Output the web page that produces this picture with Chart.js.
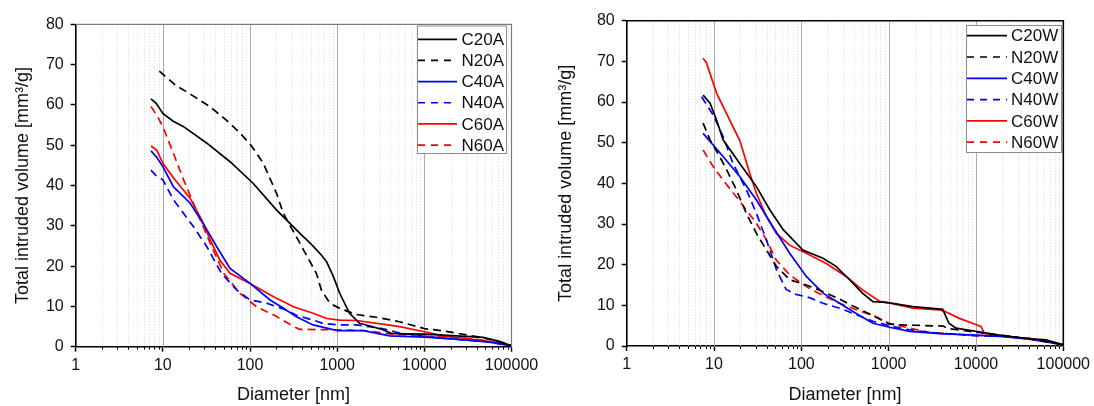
<!DOCTYPE html>
<html lang="en">
<head>
  <meta charset="UTF-8">
  <title>Total intruded volume vs diameter</title>
  <style>
    body { margin: 0; background: #fff; }
    .wrap { position: relative; width: 1094px; height: 406px; }
    canvas { position: absolute; top: 0; }
    #left { left: 0; }
    #right { left: 547px; }
  </style>
  <script src="https://cdn.jsdelivr.net/npm/chart.js"></script>
</head>
<body>
  <div class="wrap">
    <canvas id="left" width="547" height="406"></canvas>
    <canvas id="right" width="547" height="406"></canvas>
  </div>

  <script>
    // axis ticks
    const xMajor = [1, 10, 100, 1000, 10000, 100000];
    const yTicks = [0, 10, 20, 30, 40, 50, 60, 70, 80];

    // left panel: diameter [nm] / volume [mm3/g]
    const labelsA = ['C20A', 'N20A', 'C40A', 'N40A', 'C60A', 'N60A'];
    const c20aD = [7.3, 8.3, 10, 13, 17.3, 32, 59, 109, 202, 374, 500, 661, 755, 900, 1072, 1386, 1806, 2500, 3350, 4170, 6000, 10000, 23400, 47200, 67000, 100000];
    const c20aV = [61.5, 60.5, 57.9, 56, 54.6, 50.5, 45.9, 40.5, 33.9, 28.1, 25.5, 22.7, 21.1, 17.5, 13.2, 8.3, 5.8, 5.0, 4.2, 3.3, 3.2, 3.1, 2.7, 2.3, 1.5, 0.2];
    const n20aD = [9.1, 14, 22, 35, 53, 77, 105, 142, 202, 241, 373, 577, 660, 824, 1070, 1660, 2800, 5200, 10000, 17800, 40000, 67000, 100000];
    const n20aV = [68.4, 64.9, 62.3, 59.5, 56.3, 53, 49.7, 45.5, 38, 33.1, 25.7, 18.2, 14, 10.8, 9.5, 8.0, 7.3, 6.2, 4.5, 3.8, 2.5, 1.5, 0.4];
    const c40aD = [7.3, 8.5, 10, 13.2, 20.6, 30.5, 41.5, 59, 100, 170, 240, 340, 530, 1000, 2000, 4000, 10000, 23000, 56000, 100000];
    const c40aV = [48.6, 47, 44.7, 39.7, 35.6, 29.8, 24.8, 19.4, 15.7, 11.6, 9.6, 7.4, 5.4, 4.0, 4.0, 2.7, 2.4, 1.9, 1.1, 0.2];
    const n40aD = [7.3, 8.3, 10, 13.2, 22.4, 32, 47, 70, 100, 155, 263, 340, 530, 684, 1070, 1660, 3300, 5200, 10000, 23000, 50000, 100000];
    const n40aV = [43.8, 42.5, 41.4, 36.5, 29.8, 24.8, 18.2, 14.1, 11.6, 10.8, 9.1, 7.8, 6.6, 5.8, 5.4, 5.4, 4.5, 3.4, 2.6, 1.8, 1.3, 0.2];
    const c60aD = [7.3, 8.5, 10, 13.2, 20.6, 28, 35, 45, 59, 100, 186, 316, 530, 760, 1070, 1660, 3300, 5200, 10000, 17800, 40000, 67000, 100000];
    const c60aV = [49.8, 48.8, 45.5, 41.9, 36.8, 31.4, 26.5, 21.5, 18.2, 15.7, 12.4, 9.9, 8.3, 7.0, 6.6, 6.5, 5.6, 5.0, 3.7, 2.6, 1.7, 1.1, 0.3];
    const n60aD = [7.3, 8.5, 10, 13.2, 17.3, 22.4, 28, 35, 50, 77, 119, 186, 316, 373, 1000, 2000, 4000, 10000, 20000, 40000, 70000, 100000];
    const n60aV = [59.6, 57.5, 54.6, 48.0, 41.4, 35.6, 30.6, 25.6, 18.2, 13.2, 9.9, 7.9, 5.0, 4.3, 4.2, 4.0, 3.2, 2.6, 2.3, 1.8, 1.0, 0.3];

    // right panel
    const labelsW = ['C20W', 'N20W', 'C40W', 'N40W', 'C60W', 'N60W'];
    const c20wD = [7.5, 9, 10.7, 12.7, 19.7, 30.6, 43.5, 62, 104, 177, 250, 357, 500, 660, 857, 1110, 1890, 4160, 4900, 5900, 10000, 18400, 37000, 63000, 100000];
    const c20wV = [61.7, 59.7, 55.6, 50.7, 44.9, 39.2, 33.5, 28.6, 23.6, 21.6, 19.6, 16.3, 13.0, 10.9, 10.8, 10.5, 9.7, 9.0, 5.6, 4.4, 3.6, 2.7, 1.9, 1.5, 0.3];
    const n20wD = [7.5, 9, 11.6, 13.9, 18, 23.5, 30.6, 39.8, 51.8, 73.5, 114, 163, 264, 395, 614, 700, 1000, 1200, 2000, 4200, 4800, 10000, 20000, 40000, 100000];
    const n20wV = [54.8, 50.7, 46.6, 43.4, 38.4, 32.6, 27.7, 23.6, 19.6, 16.3, 15.0, 13.7, 11.7, 9.8, 7.8, 7.2, 5.5, 5.2, 5.1, 4.9, 4.3, 3.4, 2.6, 1.8, 0.3];
    const c40wD = [7.5, 12.7, 19.7, 30.6, 47, 73.5, 114, 177, 274, 425, 660, 1020, 1730, 4170, 10000, 20000, 46000, 100000];
    const c40wV = [52.3, 46.6, 41.7, 35.9, 29.4, 22.8, 17.1, 13.0, 10.5, 8.0, 5.6, 4.6, 3.6, 3.0, 2.7, 2.3, 1.6, 0.3];
    const n40wD = [7.2, 9.8, 12.7, 16.5, 23.5, 30.6, 39.8, 51.8, 67, 87, 124, 177, 274, 425, 660, 1020, 1500, 3000, 5000, 10000, 20000, 40000, 70000, 100000];
    const n40wV = [61.3, 56.8, 51.5, 44.9, 38.4, 32.6, 26.1, 18.8, 13.9, 12.7, 11.9, 10.5, 9.3, 7.7, 6.1, 5.0, 4.2, 3.3, 3.0, 2.5, 2.4, 1.9, 1.0, 0.2];
    const c60wD = [7.5, 8.2, 10.7, 16.5, 19.7, 25.7, 30.6, 39.8, 51.8, 73.5, 114, 193, 326, 500, 785, 1020, 1890, 3800, 4500, 6450, 9100, 11400, 12500, 18000, 40000, 100000];
    const c60wV = [70.8, 69.6, 62.2, 53.9, 50.6, 42.4, 37.5, 31.8, 27.7, 24.8, 22.8, 20.3, 17.1, 13.8, 11.0, 10.6, 9.3, 8.9, 8.4, 6.8, 5.6, 4.8, 3.1, 2.6, 1.7, 0.3];
    const n60wD = [7.5, 9.8, 12.7, 18, 23.5, 30.6, 39.8, 51.8, 73.5, 114, 177, 274, 425, 720, 1000, 2000, 3000, 5000, 10000, 20000, 40000, 70000, 100000];
    const n60wV = [48.2, 44.1, 40.8, 36.7, 33.4, 30.2, 26.1, 21.1, 17.5, 14.6, 12.4, 10.5, 8.9, 7.2, 5.6, 4.1, 3.3, 3.0, 2.6, 2.4, 1.8, 1.1, 0.3];

    const colors = ['#000', '#000', '#0000ff', '#0000ff', '#ff0000', '#ff0000'];
    const dashed = [false, true, false, true, false, true];
    const FONT = 'Arial, "Liberation Sans", sans-serif';

    // 1..9 per decade for the log grid
    const allTicks = [];
    for (let i = 0; i < xMajor.length - 1; i++) {
      for (let k = 1; k < 10; k++) allTicks.push(k * xMajor[i]);
    }
    allTicks.push(xMajor[xMajor.length - 1]);

    const decor = {
      id: 'decor',
      beforeDatasetsDraw(chart, args, o) {
        const { ctx, chartArea: a, scales: { x } } = chart;
        ctx.save();
        ctx.lineWidth = 1;
        for (const v of allTicks) {
          if (v === 1 || v === 100000) continue;
          const px = Math.round(x.getPixelForValue(v)) + 0.5;
          const major = xMajor.includes(v);
          ctx.strokeStyle = major ? '#a9a9a9' : '#d9d9d9';
          ctx.setLineDash(major ? [] : [1, 2]);
          ctx.beginPath();
          ctx.moveTo(px, a.top);
          ctx.lineTo(px, a.bottom);
          ctx.stroke();
        }
        ctx.restore();
      },
      afterDraw(chart, args, o) {
        const { ctx, chartArea: a, scales: { x } } = chart;
        ctx.save();
        // minor ticks
        ctx.strokeStyle = '#000';
        ctx.lineWidth = 1;
        for (const v of allTicks) {
          if (xMajor.includes(v)) continue;
          const px = Math.round(x.getPixelForValue(v)) + 0.5;
          ctx.beginPath();
          ctx.moveTo(px, a.bottom);
          ctx.lineTo(px, a.bottom + 3);
          ctx.stroke();
        }
        // top / right frame
        ctx.strokeStyle = o.frameColor;
        ctx.lineWidth = o.frameWidth;
        ctx.beginPath();
        ctx.moveTo(a.left, a.top);
        ctx.lineTo(a.right, a.top);
        ctx.lineTo(a.right, a.bottom);
        ctx.stroke();
        // legend
        const L = o.legend;
        ctx.fillStyle = '#fff';
        ctx.fillRect(L.x, L.y, L.w, L.h);
        ctx.strokeStyle = '#8c8c8c';
        ctx.lineWidth = 1;
        ctx.strokeRect(L.x + 0.5, L.y + 0.5, L.w, L.h);
        ctx.font = '17px ' + FONT;
        ctx.textBaseline = 'middle';
        chart.data.datasets.forEach((ds, i) => {
          const y = L.y0 + i * L.step;
          ctx.strokeStyle = ds.borderColor;
          ctx.lineWidth = ds.borderWidth;
          ctx.setLineDash(ds.borderDash.length ? [7, 6] : []);
          ctx.beginPath();
          ctx.moveTo(L.lx0, y);
          ctx.lineTo(L.lx1, y);
          ctx.stroke();
          ctx.setLineDash([]);
          ctx.fillStyle = '#111';
          ctx.fillText(ds.label, L.tx, y + 1);
        });
        ctx.restore();
      }
    };

    function makeChart(id, labels, D, V, box) {
      const datasets = labels.map((label, i) => ({
        label: label,
        data: D[i].map((d, j) => ({ x: d, y: V[i][j] })),
        borderColor: colors[i],
        borderWidth: 1.7,
        borderDash: dashed[i] ? [8, 5] : [],
        pointRadius: 0,
        tension: 0,
        fill: false
      }));
      return new Chart(document.getElementById(id), {
        type: 'line',
        data: { datasets: datasets },
        options: {
          responsive: false,
          animation: false,
          devicePixelRatio: 1,
          layout: { padding: { left: 0, top: box.top, right: box.right, bottom: 0 } },
          plugins: {
            legend: { display: false },
            tooltip: { enabled: false },
            decor: { frameColor: box.frameColor, frameWidth: box.frameWidth, legend: box.legend }
          },
          scales: {
            x: {
              type: 'logarithmic',
              min: 1,
              max: 100000,
              afterBuildTicks: s => { s.ticks = allTicks.map(v => ({ value: v })); },
              afterFit: s => { s.height = box.xH; },
              ticks: {
                autoSkip: false, maxRotation: 0, minRotation: 0, padding: 4,
                color: '#111', font: { family: FONT, size: 16 },
                callback: v => xMajor.includes(v) ? String(v) : ''
              },
              grid: {
                drawOnChartArea: false, tickLength: 5, tickWidth: 1.5,
                tickColor: c => (c.tick && xMajor.includes(c.tick.value)) ? '#000' : 'rgba(0,0,0,0)'
              },
              border: { color: '#000', width: 1.6 },
              title: {
                display: true, text: 'Diameter [nm]', color: '#111',
                font: { family: FONT, size: 18 }, padding: { top: 0, bottom: 0 }
              }
            },
            y: {
              min: 0,
              max: 80,
              afterBuildTicks: s => { s.ticks = yTicks.map(v => ({ value: v })); },
              afterFit: s => { s.width = box.yW; },
              ticks: { padding: 7, color: '#111', font: { family: FONT, size: 16 }, callback: v => String(v) },
              grid: { drawOnChartArea: false, tickLength: 5, tickWidth: 1.5, tickColor: '#000' },
              border: { color: '#000', width: 1.6 },
              title: {
                display: true, text: 'Total intruded volume [mm³/g]', color: '#111',
                font: { family: FONT, size: 18 }, padding: { top: box.titlePad, bottom: 0 }
              }
            }
          }
        },
        plugins: [decor]
      });
    }

    makeChart('left', labelsA,
      [c20aD, n20aD, c40aD, n40aD, c60aD, n60aD],
      [c20aV, n20aV, c40aV, n40aV, c60aV, n60aV],
      {
        top: 24.3, right: 35.5, yW: 75.7, xH: 59.3, titlePad: 12.2,
        frameColor: '#7a7a7a', frameWidth: 1.2,
        legend: { x: 417, y: 25.5, w: 89, h: 127.5, lx0: 418, lx1: 457, tx: 461.5, y0: 39.3, step: 21.15 }
      });

    makeChart('right', labelsW,
      [c20wD, n20wD, c40wD, n40wD, c60wD, n60wD],
      [c20wV, n20wV, c40wV, n40wV, c60wV, n60wV],
      {
        top: 20.7, right: 30, yW: 79.7, xH: 60, titlePad: 8.2,
        frameColor: '#000', frameWidth: 1.6,
        legend: { x: 419, y: 25, w: 95, h: 127, lx0: 420, lx1: 460, tx: 464, y0: 35.7, step: 21.3 }
      });
  </script>
</body>
</html>
